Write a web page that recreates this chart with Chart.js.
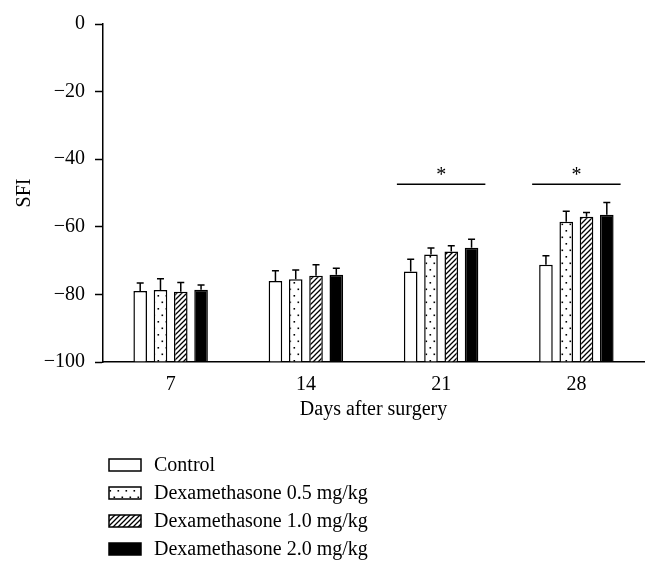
<!DOCTYPE html>
<html>
<head>
<meta charset="utf-8">
<script src="https://cdn.jsdelivr.net/npm/chart.js@4/dist/chart.umd.min.js"></script>
<style>
  html, body { margin: 0; padding: 0; background: #fff; }
  #wrap { width: 658px; height: 574px; }
</style>
</head>
<body>
<div id="wrap"><canvas id="chart" width="658" height="574"></canvas></div>
<script>
// Данные
const days = ['7', '14', '21', '28'];
const seriesNames = ['Control', 'Dexamethasone 0.5 mg/kg', 'Dexamethasone 1.0 mg/kg', 'Dexamethasone 2.0 mg/kg'];
const control = [-79, -76, -73.2, -71.2];
const dexa05 = [-78.7, -75.5, -68.2, -58.5];
const dexa10 = [-79.2, -74.5, -67.3, -57];
const dexa20 = [-78.6, -74.2, -66.2, -56.4];
const controlErr = [2.4, 3, 3.6, 2.6];
const dexa05Err = [3.3, 2.7, 1.9, 3.1];
const dexa10Err = [2.7, 3.3, 1.7, 1.2];
const dexa20Err = [1.4, 1.9, 2.5, 3.6];
const yTicks = [0, -20, -40, -60, -80, -100];
const sigDays = ['21', '28'];

const FONT = '"Liberation Serif", "DejaVu Serif", serif';
const SIZE = 20;

// Штриховки
function dotPattern() {
  const c = document.createElement('canvas');
  c.width = 8; c.height = 13;
  const g = c.getContext('2d');
  g.fillStyle = '#fff';
  g.fillRect(0, 0, 8, 13);
  g.fillStyle = '#000';
  g.fillRect(1.5, 2.5, 1.6, 1.6);
  g.fillRect(5.5, 9, 1.6, 1.6);
  return g.createPattern(c, 'repeat');
}

function hatchPattern() {
  const c = document.createElement('canvas');
  c.width = 5; c.height = 5;
  const g = c.getContext('2d');
  g.fillStyle = '#fff';
  g.fillRect(0, 0, 5, 5);
  g.strokeStyle = '#000';
  g.lineWidth = 1.3;
  g.beginPath();
  g.moveTo(-1, 6); g.lineTo(6, -1);
  g.moveTo(-1, 1); g.lineTo(1, -1);
  g.moveTo(4, 6); g.lineTo(6, 4);
  g.stroke();
  return g.createPattern(c, 'repeat');
}

const fills = ['#fff', dotPattern(), hatchPattern(), '#000'];
const values = [control, dexa05, dexa10, dexa20];
const errors = [controlErr, dexa05Err, dexa10Err, dexa20Err];

const datasets = seriesNames.map((name, i) => ({
  label: name,
  data: values[i],
  errors: errors[i],
  base: -100,
  backgroundColor: fills[i],
  borderColor: '#000',
  borderWidth: 1.5,
  borderSkipped: 'bottom',
  categoryPercentage: 0.6,
  barPercentage: 0.67
}));

// Планки погрешностей
const errorBars = {
  id: 'errorBars',
  afterDatasetsDraw(chart) {
    const ctx = chart.ctx;
    const y = chart.scales.y;
    ctx.save();
    ctx.strokeStyle = '#000';
    ctx.lineWidth = 1.5;
    chart.data.datasets.forEach((ds, di) => {
      chart.getDatasetMeta(di).data.forEach((bar, i) => {
        const top = y.getPixelForValue(ds.data[i] + ds.errors[i]);
        ctx.beginPath();
        ctx.moveTo(bar.x, bar.y);
        ctx.lineTo(bar.x, top);
        ctx.moveTo(bar.x - 3.5, top);
        ctx.lineTo(bar.x + 3.5, top);
        ctx.stroke();
      });
    });
    ctx.restore();
  }
};

// Значимость
const significance = {
  id: 'significance',
  afterDatasetsDraw(chart) {
    const ctx = chart.ctx;
    const y = chart.scales.y;
    const first = chart.getDatasetMeta(0).data;
    const last = chart.getDatasetMeta(chart.data.datasets.length - 1).data;
    ctx.save();
    ctx.strokeStyle = '#000';
    ctx.fillStyle = '#000';
    ctx.lineWidth = 1.5;
    ctx.font = SIZE + 'px ' + FONT;
    ctx.textAlign = 'center';
    ctx.textBaseline = 'middle';
    sigDays.forEach(d => {
      const i = chart.data.labels.indexOf(d);
      const x0 = first[i].x - first[i].width / 2 - 7;
      const x1 = last[i].x + last[i].width / 2 + 7;
      const ly = y.getPixelForValue(-47.4);
      ctx.beginPath();
      ctx.moveTo(x0, ly);
      ctx.lineTo(x1, ly);
      ctx.stroke();
      ctx.fillText('*', (x0 + x1) / 2, ly - 8);
    });
    ctx.restore();
  }
};

// Легенда
const legendList = {
  id: 'legendList',
  afterDraw(chart) {
    const ctx = chart.ctx;
    ctx.save();
    ctx.font = SIZE + 'px ' + FONT;
    ctx.textBaseline = 'middle';
    ctx.textAlign = 'left';
    chart.data.datasets.forEach((ds, i) => {
      const cy = 465 + i * 28;
      ctx.fillStyle = ds.backgroundColor;
      ctx.fillRect(109, cy - 6, 32, 12);
      ctx.strokeStyle = '#000';
      ctx.lineWidth = 1.5;
      ctx.strokeRect(109, cy - 6, 32, 12);
      ctx.fillStyle = '#000';
      ctx.fillText(ds.label, 154, cy + 1);
    });
    ctx.restore();
  }
};

new Chart(document.getElementById('chart'), {
  type: 'bar',
  data: { labels: days, datasets: datasets },
  plugins: [errorBars, significance, legendList],
  options: {
    responsive: false,
    animation: false,
    layout: { padding: { top: 24, right: 14, bottom: 149, left: 10 } },
    plugins: {
      legend: { display: false },
      tooltip: { enabled: false }
    },
    scales: {
      x: {
        grid: { display: false, drawTicks: false },
        border: { color: '#000', width: 1.5 },
        ticks: { color: '#000', font: { family: FONT, size: SIZE }, padding: 11 },
        title: {
          display: true,
          text: 'Days after surgery',
          color: '#000',
          font: { family: FONT, size: SIZE },
          padding: { top: 4, bottom: 3 }
        },
        afterFit(s) { s.height = 63; }
      },
      y: {
        min: -100,
        max: 0,
        afterBuildTicks(s) { s.ticks = yTicks.map(v => ({ value: v })); },
        grid: { drawOnChartArea: false, drawTicks: true, tickLength: 8, tickColor: '#000', tickWidth: 1.5 },
        border: { color: '#000', width: 1.5 },
        ticks: {
          color: '#000',
          font: { family: FONT, size: SIZE },
          padding: 10,
          callback: v => String(v).replace('-', '\u2212')
        },
        title: {
          display: true,
          text: 'SFI',
          color: '#000',
          font: { family: FONT, size: SIZE },
          padding: { top: 3, bottom: 4 }
        },
        afterFit(s) { s.width = 93; }
      }
    }
  }
});
</script>
</body>
</html>
